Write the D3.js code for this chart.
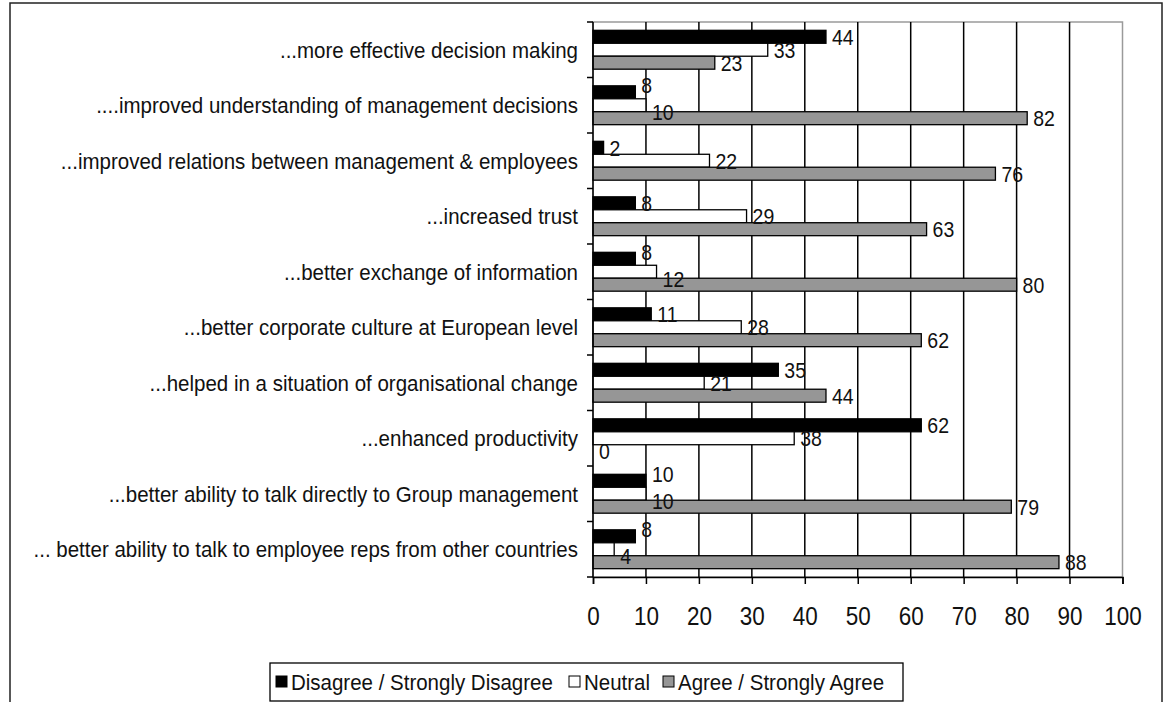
<!DOCTYPE html>
<html>
<head>
<meta charset="utf-8">
<script src="https://cdn.jsdelivr.net/npm/d3@7"></script>
<style>
  html, body { margin: 0; padding: 0; background: #fff; }
  svg { display: block; }
  text { font-family: "Liberation Sans", Arial, sans-serif; fill: #111; }
</style>
</head>
<body>
<svg id="chart" width="1168" height="702"></svg>
<script>
// ---- data ----
const categories = [
  "...more effective decision making",
  "....improved understanding of management decisions",
  "...improved relations between management & employees",
  "...increased trust",
  "...better exchange of information",
  "...better corporate culture at European level",
  "...helped in a situation of organisational change",
  "...enhanced productivity",
  "...better ability to talk directly to Group management",
  "... better ability to talk to employee reps from other countries"
];
const seriesNames = ["Disagree / Strongly Disagree", "Neutral", "Agree / Strongly Agree"];
const disagree = [44, 8, 2, 8, 8, 11, 35, 62, 10, 8];
const neutral  = [33, 10, 22, 29, 12, 28, 21, 38, 10, 4];
const agree    = [23, 82, 76, 63, 80, 62, 44, 0, 79, 88];
const xTicks = [0, 10, 20, 30, 40, 50, 60, 70, 80, 90, 100];
const seriesColors = ["#000000", "#ffffff", "#969696"];

// ---- layout ----
const svg = d3.select("#chart");
const plot = { left: 593, right: 1122.5, top: 22, bottom: 577 };

const x = d3.scaleLinear().domain([0, 100]).range([plot.left, plot.right]);
const y0 = d3.scaleBand().domain(categories).range([plot.top, plot.bottom])
  .paddingInner(0.3).paddingOuter(0.15);
const y1 = d3.scaleBand().domain(seriesNames).range([0, y0.bandwidth()]);

const seriesValues = [disagree, neutral, agree];
const rows = [];
categories.forEach((c, i) => {
  seriesNames.forEach((s, j) => {
    rows.push({ cat: c, ci: i, series: s, idx: j, value: seriesValues[j][i] });
  });
});

// outer frame
svg.append("rect")
  .attr("x", 10).attr("y", 3).attr("width", 1152).attr("height", 710)
  .attr("fill", "none").attr("stroke", "#222").attr("stroke-width", 1.5);

// plot area border (gray)
svg.append("rect")
  .attr("x", plot.left).attr("y", plot.top)
  .attr("width", plot.right - plot.left).attr("height", plot.bottom - plot.top)
  .attr("fill", "#fff").attr("stroke", "#9a9a9a").attr("stroke-width", 1.5);

// vertical gridlines
svg.append("g").selectAll("line")
  .data(xTicks.filter(t => t > 0 && t < 100))
  .join("line")
  .attr("x1", d => x(d)).attr("x2", d => x(d))
  .attr("y1", plot.top).attr("y2", plot.bottom)
  .attr("stroke", "#000").attr("stroke-width", 1.5);

// bars
svg.append("g").selectAll("rect")
  .data(rows)
  .join("rect")
  .attr("x", x(0))
  .attr("y", d => y0(d.cat) + y1(d.series))
  .attr("width", d => x(d.value) - x(0))
  .attr("height", y1.bandwidth())
  .attr("fill", d => seriesColors[d.idx])
  .attr("stroke", "#000").attr("stroke-width", 1.3);

// x axis
const xAxis = d3.axisBottom(x).tickValues(xTicks).tickSize(7).tickPadding(6).tickFormat(d3.format("d"));
const gx = svg.append("g").attr("transform", `translate(0,${plot.bottom})`).call(xAxis);
gx.select(".domain").attr("stroke", "#000").attr("stroke-width", 1.5);
gx.selectAll(".tick line").attr("stroke", "#000").attr("stroke-width", 1.5);
gx.selectAll(".tick text").remove();
gx.selectAll(".tick").append("text")
  .attr("text-anchor", "middle")
  .attr("transform", "translate(0,48) scale(1,1.12)")
  .style("font-size", "22.5px")
  .text(d => d);

// y axis (category boundary ticks)
svg.append("line")
  .attr("x1", plot.left).attr("x2", plot.left)
  .attr("y1", plot.top).attr("y2", plot.bottom)
  .attr("stroke", "#000").attr("stroke-width", 1.5);
const boundaries = categories.map(c => y0(c) - y0.step() * y0.paddingInner() / 2);
boundaries.push(plot.bottom);
svg.append("g").selectAll("line")
  .data(boundaries)
  .join("line")
  .attr("x1", plot.left - 6).attr("x2", plot.left)
  .attr("y1", d => d).attr("y2", d => d)
  .attr("stroke", "#000").attr("stroke-width", 1.5);

// category labels
svg.append("g").selectAll("text")
  .data(categories)
  .join("text")
  .attr("text-anchor", "end")
  .attr("dy", "0.36em")
  .attr("transform", d => `translate(578,${y0(d) + y0.bandwidth() / 2}) scale(1,1.08)`)
  .style("font-size", "20.5px")
  .text(d => d);

// value labels: nudge the first two series apart when their labels would collide
function labelShift(d) {
  if (d.idx === 2) return 0;
  const a = x(disagree[d.ci]), b = x(neutral[d.ci]);
  if (Math.abs(a - b) < 26) return d.idx === 0 ? -7 : 7;
  return 0;
}
svg.append("g").selectAll("text")
  .data(rows)
  .join("text")
  .attr("text-anchor", "start")
  .attr("dy", "0.36em")
  .attr("transform", d => `translate(${x(d.value) + 6},${y0(d.cat) + y1(d.series) + y1.bandwidth() / 2 + labelShift(d)}) scale(1,1.12)`)
  .style("font-size", "19.5px")
  .text(d => d.value);

// legend
const legend = svg.append("g");
legend.append("rect")
  .attr("x", 270).attr("y", 663).attr("width", 633).attr("height", 38)
  .attr("fill", "#fff").attr("stroke", "#000").attr("stroke-width", 1.3);
const legendX = [276, 569, 663];
seriesNames.forEach((s, j) => {
  legend.append("rect")
    .attr("x", legendX[j]).attr("y", 676).attr("width", 11).attr("height", 11)
    .attr("fill", seriesColors[j]).attr("stroke", "#000").attr("stroke-width", 1);
  legend.append("text")
    .attr("dy", "0.36em")
    .attr("transform", `translate(${legendX[j] + 15},681.5) scale(1,1.1)`)
    .style("font-size", "20.5px")
    .text(s);
});
</script>
</body>
</html>
